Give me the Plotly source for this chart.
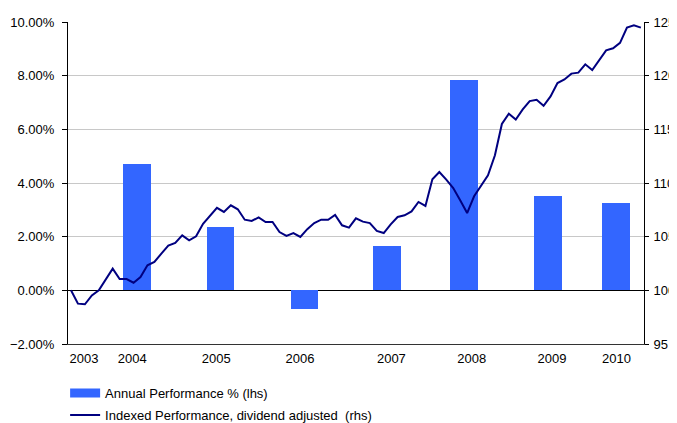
import plotly.graph_objects as go

# ---- data ----
bar_years = ["2004", "2005", "2006", "2007", "2008", "2009", "2010"]
bar_month_pos = [9.5, 21.5, 33.6, 45.5, 56.5, 68.6, 78.4]
annual_perf = [4.70, 2.35, -0.70, 1.64, 7.83, 3.50, 3.25]

indexed_perf = [
    100.00, 98.76, 98.70, 99.53, 100.00, 101.02, 102.02, 101.05, 101.05, 100.71,
    101.24, 102.33, 102.64, 103.42, 104.16, 104.41, 105.12, 104.66, 105.03, 106.20,
    106.95, 107.68, 107.30, 107.92, 107.55, 106.58, 106.46, 106.80, 106.37, 106.37,
    105.43, 105.07, 105.34, 104.97, 105.70, 106.27, 106.58, 106.58, 107.03, 106.06,
    105.84, 106.71, 106.40, 106.27, 105.53, 105.34, 106.15, 106.83, 106.99, 107.35,
    108.23, 107.86, 110.34, 111.02, 110.31, 109.53, 108.39, 107.20, 108.76, 109.78,
    110.71, 112.58, 115.50, 116.46, 115.92, 116.85, 117.63, 117.75, 117.19, 118.07,
    119.31, 119.65, 120.19, 120.28, 121.06, 120.53, 121.46, 122.36, 122.55, 123.06,
    124.48, 124.69, 124.48,
]
month_index = list(range(len(indexed_perf)))

tick_labels = ["2003", "2004", "2005", "2006", "2007", "2008", "2009", "2010"]
tick_month_pos = [1.87, 8.8, 20.9, 32.95, 46.1, 57.65, 69.2, 78.5]

bar_name = "Annual Performance % (lhs)"
line_name = "Indexed Performance, dividend adjusted  (rhs)"

BAR_COLOR = "#3366FF"
LINE_COLOR = "#000080"
FONT = "Arial, Liberation Sans, sans-serif"

fig = go.Figure()

fig.add_trace(go.Bar(
    x=bar_month_pos, y=annual_perf, width=4, marker_color=BAR_COLOR,
    marker_line_width=0, name=bar_name, showlegend=False, legendgroup="a",
    yaxis="y",
))
# legend swatch for bars (wide rectangle like the original)
fig.add_trace(go.Scatter(
    x=[None], y=[None], mode="lines", line=dict(color=BAR_COLOR, width=9),
    name=bar_name, legendgroup="a", showlegend=True, yaxis="y",
))
fig.add_trace(go.Scatter(
    x=month_index, y=indexed_perf, mode="lines",
    line=dict(color=LINE_COLOR, width=2), name=line_name,
    legendgroup="b", yaxis="y2",
))

fig.update_layout(
    width=669, height=415,
    margin=dict(l=60, r=33, t=14, b=79, autoexpand=False),
    paper_bgcolor="white", plot_bgcolor="white",
    font=dict(family=FONT, size=13, color="#000000"),
    bargap=0,
    xaxis=dict(
        range=[-0.432, 82.45], tickmode="array", tickvals=tick_month_pos,
        ticktext=tick_labels, showgrid=False, zeroline=False,
        showline=True, linecolor="#333333", linewidth=1, ticks="",
        ticklabelstandoff=2, automargin=False,
    ),
    yaxis=dict(
        range=[-2, 10], dtick=2, tick0=0, ticksuffix="%", tickformat=".2f",
        showgrid=True, gridcolor="#C8C8C8", gridwidth=1,
        zeroline=True, zerolinecolor="#000000", zerolinewidth=1,
        showline=True, linecolor="#000000", linewidth=1,
        ticks="outside", ticklen=5, tickcolor="#000000",
        ticklabelstandoff=5, automargin=False,
    ),
    yaxis2=dict(
        range=[95, 125], dtick=5, overlaying="y", side="right",
        showgrid=False, zeroline=False,
        showline=True, linecolor="#000000", linewidth=1,
        ticks="outside", ticklen=4, tickcolor="#000000",
        ticklabelstandoff=2, automargin=False,
    ),
    legend=dict(
        x=-0.005, xanchor="left", y=-0.106, yanchor="top",
        orientation="v", tracegroupgap=2, bgcolor="rgba(0,0,0,0)",
        font=dict(family=FONT, size=13), traceorder="grouped",
    ),
    showlegend=True,
)

fig.write_html("out.html")
